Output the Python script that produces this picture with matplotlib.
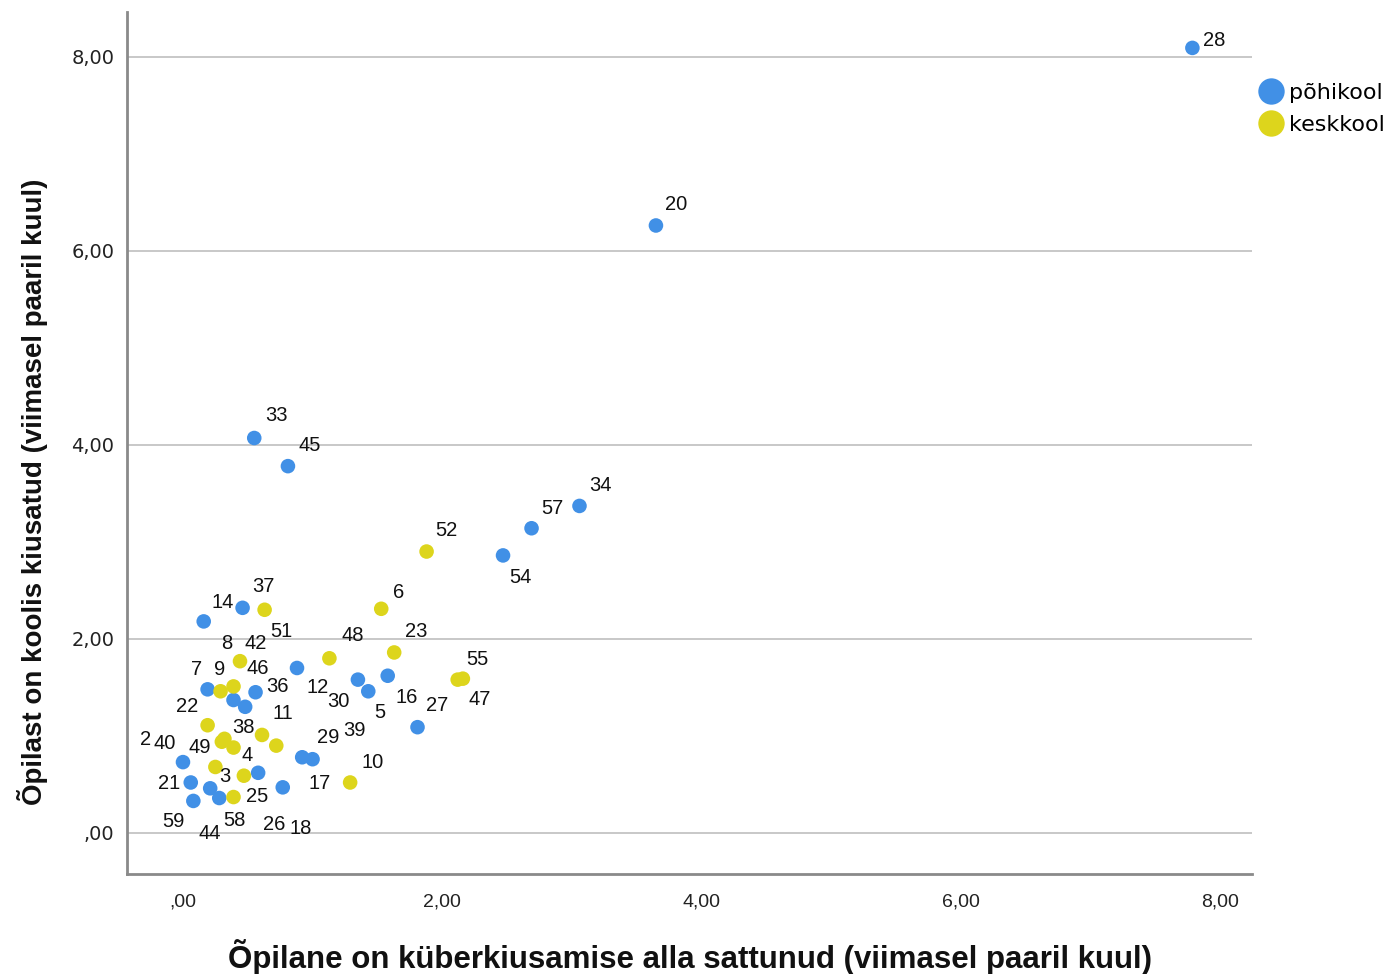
import matplotlib
matplotlib.use("Agg")
import numpy as np
import matplotlib.pyplot as plt
from matplotlib.lines import Line2D
from matplotlib.ticker import FuncFormatter

# case numbers, x = cyberbullying, y = bullied at school, group
blue_case = ['28', '20', '33', '45', '34', '57', '54', '14', '37', '12', '7', '8', '',
             '36', '30', '5', '16', '27', '29', '39', '17', '26', '40', '21', '44', '58', '59']
blue_x = [7.79, 3.65, 0.55, 0.81, 3.06, 2.69, 2.47, 0.16, 0.46, 0.88, 0.19, 0.39, 0.48,
          0.56, 1.35, 1.43, 1.58, 1.81, 0.92, 1.00, 0.77, 0.58, 0.00, 0.06, 0.21, 0.28, 0.08]
blue_y = [8.09, 6.26, 4.07, 3.78, 3.37, 3.14, 2.86, 2.18, 2.32, 1.70, 1.48, 1.37, 1.30,
          1.45, 1.58, 1.46, 1.62, 1.09, 0.78, 0.76, 0.47, 0.62, 0.73, 0.52, 0.46, 0.36, 0.33]

yel_case = ['52', '6', '23', '48', '51', '42', '55', '47', '9', '46', '22', '49', '38',
            '4', '11', '18', '2', '3', '25', '10']
yel_x = [1.88, 1.53, 1.63, 1.13, 0.63, 0.44, 2.12, 2.16, 0.29, 0.39, 0.19, 0.30, 0.32,
         0.39, 0.61, 0.72, 0.25, 0.47, 0.39, 1.29]
yel_y = [2.90, 2.31, 1.86, 1.80, 2.30, 1.77, 1.58, 1.59, 1.46, 1.51, 1.11, 0.94, 0.97,
         0.88, 1.01, 0.90, 0.68, 0.59, 0.37, 0.52]

# label placement (pixel offsets from the point)
lab_off = {
    '28': (22, 7), '20': (20, 21), '33': (22, 23), '45': (22, 21), '34': (21, 20),
    '57': (21, 20), '54': (17, -22), '52': (20, 21), '14': (19, 19), '37': (21, 21),
    '6': (17, 16), '23': (22, 21), '48': (23, 23), '51': (17, -22), '42': (16, 18),
    '8': (-7, 57), '7': (-11, 20), '9': (-1, 22), '46': (24, 18), '36': (22, 6),
    '12': (21, -20), '30': (-20, -22), '5': (12, -21), '16': (19, -22), '27': (20, 22),
    '55': (20, 20), '47': (17, -21), '22': (-20, 19), '11': (21, 21), '38': (19, 11),
    '49': (-22, -6), '4': (14, -8), '2': (-70, 27), '40': (-18, 19), '3': (-19, -1),
    '29': (26, 20), '39': (42, 29), '10': (22, 20), '17': (37, 4), '21': (-22, -1),
    '25': (24, 1), '59': (-20, -21), '58': (15, -22), '44': (0, -45), '26': (16, -52),
    '18': (24, -83),
}

c_blue = '#4190e6'
c_yel = '#ddd51c'

fig = plt.figure(figsize=(13.97, 9.74), dpi=100)
ax = fig.add_axes((127/1397, 1-874/974, 1125/1397, 862/974))

ax.scatter(blue_x, blue_y, s=110, color=c_blue, edgecolors='none', zorder=3)
ax.scatter(yel_x, yel_y, s=110, color=c_yel, edgecolors='none', zorder=3)

for cases, xs, ys in [(blue_case, blue_x, blue_y), (yel_case, yel_x, yel_y)]:
    for c, xx, yy in zip(cases, xs, ys):
        if c == '':
            continue
        dx, dy = lab_off[c]
        ax.annotate(c, (xx, yy), xytext=(dx, dy), textcoords='offset pixels',
                    ha='center', va='center', fontsize=14.5,
                    family=['Liberation Sans', 'DejaVu Sans'], color='#111111', zorder=4)

ax.set_xlim(-0.432, 8.25)
ax.set_ylim(-0.423, 8.46)
ax.set_xticks([0, 2, 4, 6, 8])
ax.set_yticks([0, 2, 4, 6, 8])

fmt = FuncFormatter(lambda v, p: ('%.2f' % v).replace('.', ',').lstrip('0') if v == 0
                    else ('%.2f' % v).replace('.', ','))
ax.xaxis.set_major_formatter(fmt)
ax.yaxis.set_major_formatter(fmt)

ax.grid(axis='y', color='#c4c4c4', linewidth=1.3, zorder=0)
ax.set_axisbelow(True)
for s in ['top', 'right']:
    ax.spines[s].set_visible(False)
for s in ['left', 'bottom']:
    ax.spines[s].set_color('#8a8a8a')
    ax.spines[s].set_linewidth(2)

ax.tick_params(axis='both', length=0)
ax.tick_params(axis='y', pad=9)
ax.tick_params(axis='x', pad=14)
for t in ax.get_yticklabels():
    t.set_family(['DejaVu Sans'])
    t.set_fontsize(14)
    t.set_color('#222222')
for t in ax.get_xticklabels():
    t.set_family(['Liberation Sans'])
    t.set_fontsize(14)
    t.set_color('#222222')

fig.text(690/1397, 1-957/974, 'Õpilane on küberkiusamise alla sattunud (viimasel paaril kuul)',
         ha='center', va='center', family=['Liberation Sans'], fontweight='bold',
         fontsize=22.5, color='#111111')
fig.text(33/1397, 1-492/974, 'Õpilast on koolis kiusatud (viimasel paaril kuul)',
         ha='center', va='center', rotation=90, family=['Liberation Sans'],
         fontweight='bold', fontsize=20, color='#111111')

handles = [Line2D([], [], marker='o', ls='none', color=c_blue, markersize=19, markeredgewidth=0),
           Line2D([], [], marker='o', ls='none', color=c_yel, markersize=19, markeredgewidth=0)]
fig.legend(handles, ['põhikool', 'keskkool'], loc='upper left',
           bbox_to_anchor=(1252/1397, 1-74/974), frameon=False, handlelength=0.9,
           handletextpad=0.35, labelspacing=0.55, borderaxespad=0,
           prop=dict(family='DejaVu Sans', size=16))

plt.savefig('out.png', dpi=100)
